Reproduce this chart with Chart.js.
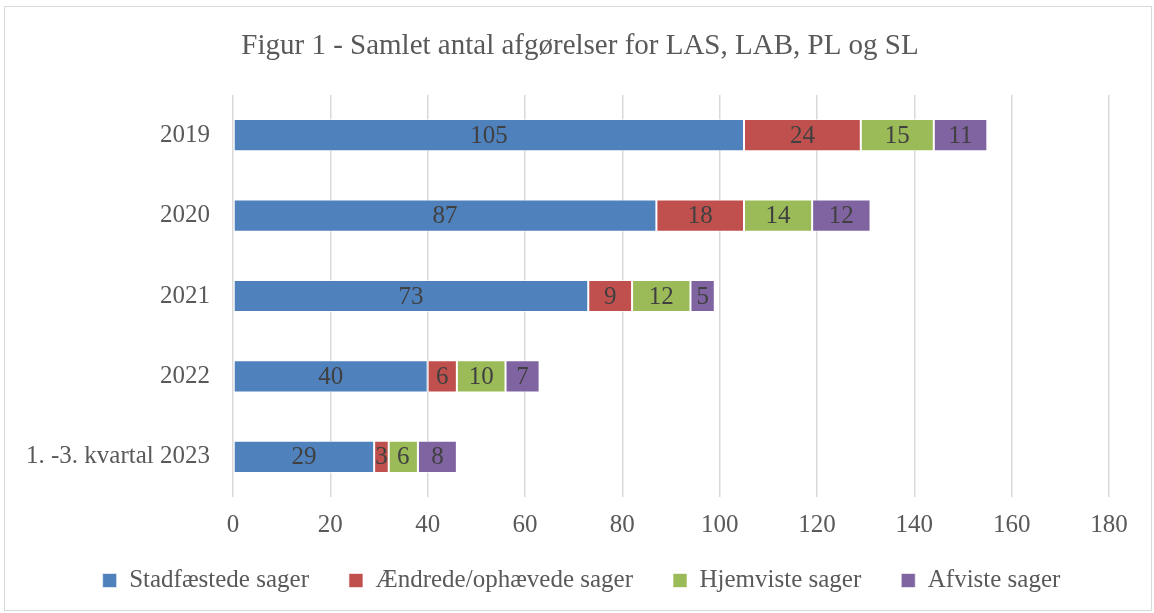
<!DOCTYPE html>
<html>
<head>
<meta charset="utf-8">
<script src="https://cdn.jsdelivr.net/npm/chart.js@4/dist/chart.umd.min.js"></script>
<style>
  html, body { margin: 0; padding: 0; background: #fff; }
  #frame {
    position: absolute; left: 4px; top: 6px;
    width: 1148px; height: 605px;
    border: 1px solid #d9d9d9; box-sizing: border-box;
  }
  #wrap { position: absolute; left: 0; top: 0; width: 1154px; height: 613px; }
</style>
</head>
<body>
<div id="frame"></div>
<div id="wrap"><canvas id="chart"></canvas></div>
<script>
const FONT = "'Liberation Serif', 'DejaVu Serif', serif";

const TITLE = "Figur 1 - Samlet antal afgørelser for LAS, LAB, PL og SL";
const categories = ["2019", "2020", "2021", "2022", "1. -3. kvartal 2023"];
const stadfaestede = [105, 87, 73, 40, 29];
const aendrede = [24, 18, 9, 6, 3];
const hjemviste = [15, 14, 12, 10, 6];
const afviste = [11, 12, 5, 7, 8];
const xTicks = [0, 20, 40, 60, 80, 100, 120, 140, 160, 180];

// tal midt i hvert segment
const segmentLabels = {
    id: "segmentLabels",
    afterDatasetsDraw(chart) {
        const ctx = chart.ctx;
        ctx.save();
        ctx.font = "25px " + FONT;
        ctx.fillStyle = "#404040";
        ctx.textAlign = "center";
        ctx.textBaseline = "middle";
        chart.data.datasets.forEach((ds, i) => {
            const meta = chart.getDatasetMeta(i);
            meta.data.forEach((bar, j) => {
                const v = ds.data[j];
                const cx = (bar.x + bar.base) / 2;
                ctx.fillText(String(v), cx, bar.y + 1);
            });
        });
        ctx.restore();
    },
};

// titel centreret over hele rammen (Excel-stil)
const frameTitle = {
    id: "frameTitle",
    afterDraw(chart) {
        const ctx = chart.ctx;
        ctx.save();
        ctx.font = "29px " + FONT;
        ctx.fillStyle = "#595959";
        ctx.textAlign = "center";
        ctx.textBaseline = "middle";
        ctx.fillText(TITLE, 580, 46);
        ctx.restore();
    },
};

// legenden sidder lidt til højre i Excel
const legendShift = {
    id: "legendShift",
    afterLayout(chart) {
        const lg = chart.legend;
        if (!lg) return;
        lg.left += 16;
        lg.right += 16;
    },
};

function ds(label, data, color) {
    return {
        label,
        data,
        backgroundColor: color,
        borderColor: "rgba(255,255,255,0.6)",
        borderWidth: 1,
        borderSkipped: false,
        barPercentage: 0.8,
        categoryPercentage: 0.5,
    };
}

const chart = new Chart(document.getElementById("chart"), {
    type: "bar",
    data: {
        labels: categories,
        datasets: [
            ds("Stadfæstede sager", stadfaestede, "#4f81bd"),
            ds("Ændrede/ophævede sager", aendrede, "#c0504d"),
            ds("Hjemviste sager", hjemviste, "#9bbb59"),
            ds("Afviste sager", afviste, "#8064a2"),
        ],
    },
    options: {
        indexAxis: "y",
        responsive: true,
        maintainAspectRatio: false,
        animation: false,
        layout: { padding: { left: 22, right: 45, top: 95, bottom: 10 } },
        plugins: {
            title: { display: false },
            legend: {
                position: "bottom",
                labels: {
                    color: "#595959",
                    font: { family: FONT, size: 25 },
                    boxWidth: 14,
                    boxHeight: 14,
                    padding: 15,
                    // lidt ekstra luft mellem posterne, ikke i højden
                    generateLabels(c) {
                        const items = Chart.defaults.plugins.legend.labels.generateLabels(c);
                        items.forEach((it, i) => {
                            if (i < items.length - 1) it.text += "\u00a0\u00a0\u00a0\u00a0";
                        });
                        return items;
                    },
                },
            },
            tooltip: { enabled: false },
        },
        scales: {
            x: {
                stacked: true,
                min: 0,
                max: 180,
                afterBuildTicks(axis) {
                    axis.ticks = xTicks.map((v) => ({ value: v }));
                },
                grid: { color: "#d9d9d9", lineWidth: 1.5, drawTicks: false },
                border: { display: false },
                ticks: {
                    color: "#595959",
                    font: { family: FONT, size: 25 },
                    padding: 13,
                },
            },
            y: {
                stacked: true,
                grid: { display: false },
                border: { display: false },
                afterFit(axis) {
                    axis.width = 211;
                },
                ticks: {
                    color: "#595959",
                    font: { family: FONT, size: 25 },
                    padding: 15,
                },
            },
        },
    },
    plugins: [segmentLabels, frameTitle, legendShift],
});
</script>
</body>
</html>
